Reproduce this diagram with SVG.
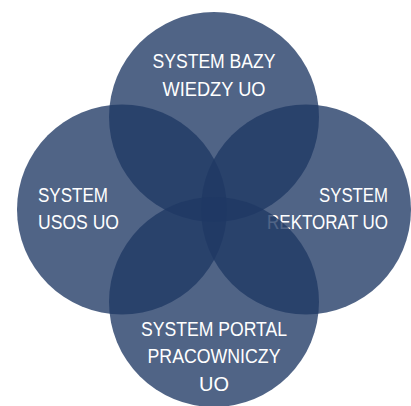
<svg xmlns="http://www.w3.org/2000/svg" width="411" height="406" viewBox="0 0 411 406">
  <style>
    .c { fill: #1f3864; fill-opacity: 0.78; }
    .t { font-family: "Liberation Sans", Arial, sans-serif; font-size: 19.5px; fill: #ffffff; }
    .m { text-anchor: middle; }
    .e { text-anchor: end; }
  </style>
  <rect width="411" height="406" fill="#ffffff"/>
  <g id="connectors"></g>
  <g id="node-baza">
    <circle class="c" cx="214" cy="117" r="105"/>
    <text class="t m" x="214" y="68" textLength="123" lengthAdjust="spacingAndGlyphs">SYSTEM BAZY</text>
    <text class="t m" x="214" y="96" textLength="103" lengthAdjust="spacingAndGlyphs">WIEDZY UO</text>
  </g>
  <g id="node-usos">
    <circle class="c" cx="122" cy="209.5" r="105"/>
    <text class="t" x="38" y="202" textLength="70" lengthAdjust="spacingAndGlyphs">SYSTEM</text>
    <text class="t" x="38" y="229" textLength="81" lengthAdjust="spacingAndGlyphs">USOS UO</text>
  </g>
  <g id="node-rektorat">
    <circle class="c" cx="306" cy="209.5" r="105"/>
    <text class="t e" x="388" y="202" textLength="69" lengthAdjust="spacingAndGlyphs">SYSTEM</text>
    <text class="t e" x="388" y="229" textLength="121" lengthAdjust="spacingAndGlyphs">REKTORAT UO</text>
  </g>
  <g id="node-portal">
    <circle class="c" cx="214" cy="302" r="105"/>
    <text class="t m" x="214" y="336" textLength="146" lengthAdjust="spacingAndGlyphs">SYSTEM PORTAL</text>
    <text class="t m" x="214" y="363" textLength="133" lengthAdjust="spacingAndGlyphs">PRACOWNICZY</text>
    <text class="t m" x="214" y="391" textLength="30" lengthAdjust="spacingAndGlyphs">UO</text>
  </g>
</svg>
